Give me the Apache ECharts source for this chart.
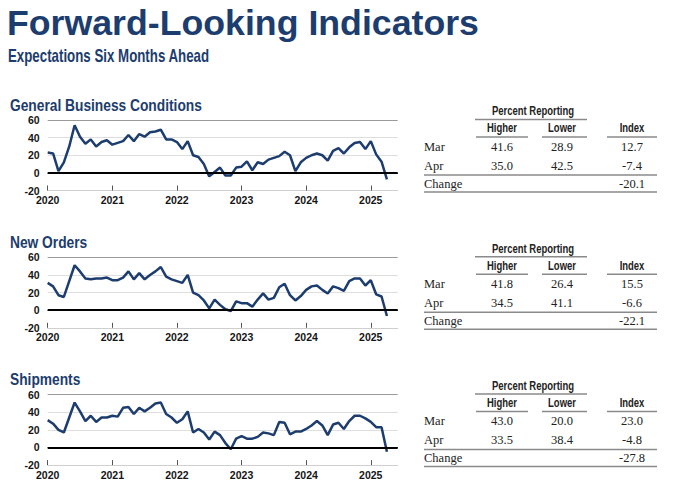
<!DOCTYPE html>
<html><head><meta charset="utf-8">
<script src="https://cdn.jsdelivr.net/npm/echarts@6.0.0/dist/echarts.min.js"></script>
<style>html,body{margin:0;padding:0;background:#fff}#c{width:680px;height:502px}</style>
</head><body><div id="c"></div>
<script>
// ---------- data ----------
const months = [];
for (let y = 2020; y <= 2025; y++) for (let m = 1; m <= 12; m++) { if (y === 2025 && m > 6) break; months.push(y + '-' + String(m).padStart(2, '0')); }
const yTicks = [-20, 0, 20, 40, 60];

const generalBusiness = [23,22,2,12,30,54,41,33,38,30,35,37,
  32,34,36,43,36,44,41,46,47,49,38,38,
  35,27,36,20,18,10,-4,1,6,-3,-3,6,
  7,13,3,12,10,15,17,19,24,20,2,12,
  17,20,22,20,14,25,28,22,29,34,35,27,
  36,21,12.7,-7.4];
const newOrders = [31,27,17,15,33,51,44,36,35,36,36,37,
  34,34,37,44,35,42,35,40,44,49,38,35,
  33,31,40,20,17,11,2,12,6,1,-1,10,
  8,8,4,12,19,12,14,26,30,17,11,16,
  23,27,28,23,19,27,25,22,33,36,36,28,
  34,18,15.5,-6.6];
const shipments = [31,27,20,17,34,51,41,30,36,29,34,34,
  36,35,45,46,38,45,41,45,50,51,38,34,
  28,32,41,17,21,17,9,18,14,5,-2,10,
  13,10,10,12,17,16,14,29,28,15,18,18,
  21,25,30,25,14,26,28,21,30,36,36,33,
  29,23,23.0,-4.8];

const chartTitles = ['General Business Conditions', 'New Orders', 'Shipments'];
const rowLabels = ['Mar', 'Apr'];
const higher = [[41.6, 35.0], [41.8, 34.5], [43.0, 33.5]];
const lower = [[28.9, 42.5], [26.4, 41.1], [20.0, 38.4]];
const indexVals = [[12.7, -7.4], [15.5, -6.6], [23.0, -4.8]];
const changeVals = [-20.1, -22.1, -27.8];
const seriesData = [generalBusiness, newOrders, shipments];

// ---------- layout ----------
const NAVY = '#1c3d6e';
const SANS = '"Liberation Sans",Arial,sans-serif';
const SERIF = '"Liberation Serif","Times New Roman",serif';
const gridTops = [120, 257.3, 394.6];
const dys = [0, 137.3, 274.6];

const grids = [], xAxes = [], yAxes = [], series = [], graphics = [];

function txt(text, x, y, font, fill, align, sx) {
  return { type: 'text', silent: true, x: x, y: y, scaleX: sx || 1,
    style: { text: text, font: font, fill: fill, align: align || 'left', verticalAlign: 'middle',
             textAlign: align || 'left', textVerticalAlign: 'middle' } };
}
function ln(x1, y, x2, color, w) {
  return { type: 'line', silent: true, shape: { x1: x1, y1: y, x2: x2, y2: y },
    style: { stroke: color || '#8a8a8a', lineWidth: w || 1.5 } };
}

graphics.push(txt('Forward-Looking Indicators', 7, 23, 'bold 35px ' + SANS, NAVY, 'left', 1.02));
graphics.push(txt('Expectations Six Months Ahead', 8, 56, 'bold 17.5px ' + SANS, NAVY, 'left', 0.76));

for (let i = 0; i < 3; i++) {
  grids.push({ left: 47.7, top: gridTops[i], width: 350, height: 70.5, outerBoundsMode: 'none', containLabel: false });
  xAxes.push({
    type: 'category', gridIndex: i, data: months, boundaryGap: false,
    axisLine: { onZero: false, lineStyle: { color: '#cfcfcf', width: 1 } },
    axisTick: { interval: (idx) => idx % 12 === 0, inside: true, length: 5, lineStyle: { color: '#555', width: 1 } },
    axisLabel: { interval: (idx) => idx % 12 === 0, formatter: (v) => v.slice(0, 4), color: '#151515',
      fontWeight: 'bold', fontSize: 10.5, fontFamily: SANS, margin: 4 },
    splitLine: { show: false }
  });
  yAxes.push({
    type: 'value', gridIndex: i, min: yTicks[0], max: yTicks[yTicks.length - 1], interval: 20,
    axisLine: { show: false }, axisTick: { show: false },
    axisLabel: { color: '#151515', fontWeight: 'bold', fontSize: 10.5, fontFamily: SANS, margin: 8 },
    splitLine: { lineStyle: { color: ['#d4d4d4', '#000', '#dedede', '#dedede', '#9a9a9a'], width: 1 } }
  });
  series.push({
    type: 'line', xAxisIndex: i, yAxisIndex: i, data: seriesData[i], symbol: 'none', showSymbol: false,
    lineStyle: { color: NAVY, width: 2.5 }, animation: false, z: 3,
    markLine: { silent: true, symbol: 'none', animation: false, label: { show: false },
      lineStyle: { color: '#000', width: 2, type: 'solid' }, data: [{ yAxis: 0 }] }
  });

  const dy = dys[i];
  graphics.push(txt(chartTitles[i], 10, 104.5 + dy, 'bold 17px ' + SANS, NAVY, 'left', 0.81));
  const hf = 'bold 12px ' + SANS, hs = 0.79, vf = '12.5px ' + SERIF, tc = '#222';
  graphics.push(txt('Percent Reporting', 533, 111 + dy, hf, tc, 'center', hs));
  graphics.push(ln(475, 119.5 + dy, 587));
  graphics.push(txt('Higher', 502, 128 + dy, hf, tc, 'center', hs));
  graphics.push(txt('Lower', 562, 128 + dy, hf, tc, 'center', hs));
  graphics.push(txt('Index', 632, 128 + dy, hf, tc, 'center', hs));
  graphics.push(ln(476, 137 + dy, 528));
  graphics.push(ln(542, 137 + dy, 587));
  graphics.push(ln(607, 137 + dy, 657));
  const rowY = [146.7, 165.7];
  for (let r = 0; r < 2; r++) {
    graphics.push(txt(rowLabels[r], 424, rowY[r] + dy, vf, tc));
    graphics.push(txt(higher[i][r].toFixed(1), 502, rowY[r] + dy, vf, tc, 'center'));
    graphics.push(txt(lower[i][r].toFixed(1), 562, rowY[r] + dy, vf, tc, 'center'));
    graphics.push(txt(indexVals[i][r].toFixed(1), 632, rowY[r] + dy, vf, tc, 'center'));
  }
  graphics.push(ln(424, 175 + dy, 657));
  graphics.push(txt('Change', 424, 183.5 + dy, vf, tc));
  graphics.push(txt(changeVals[i].toFixed(1), 632, 183.5 + dy, vf, tc, 'center'));
  graphics.push(ln(424, 192 + dy, 657));
}

const chart = echarts.init(document.getElementById('c'), null, { renderer: 'svg' });
chart.setOption({
  backgroundColor: '#fff', animation: false,
  grid: grids, xAxis: xAxes, yAxis: yAxes, series: series,
  graphic: { elements: graphics }
});
</script></body></html>
